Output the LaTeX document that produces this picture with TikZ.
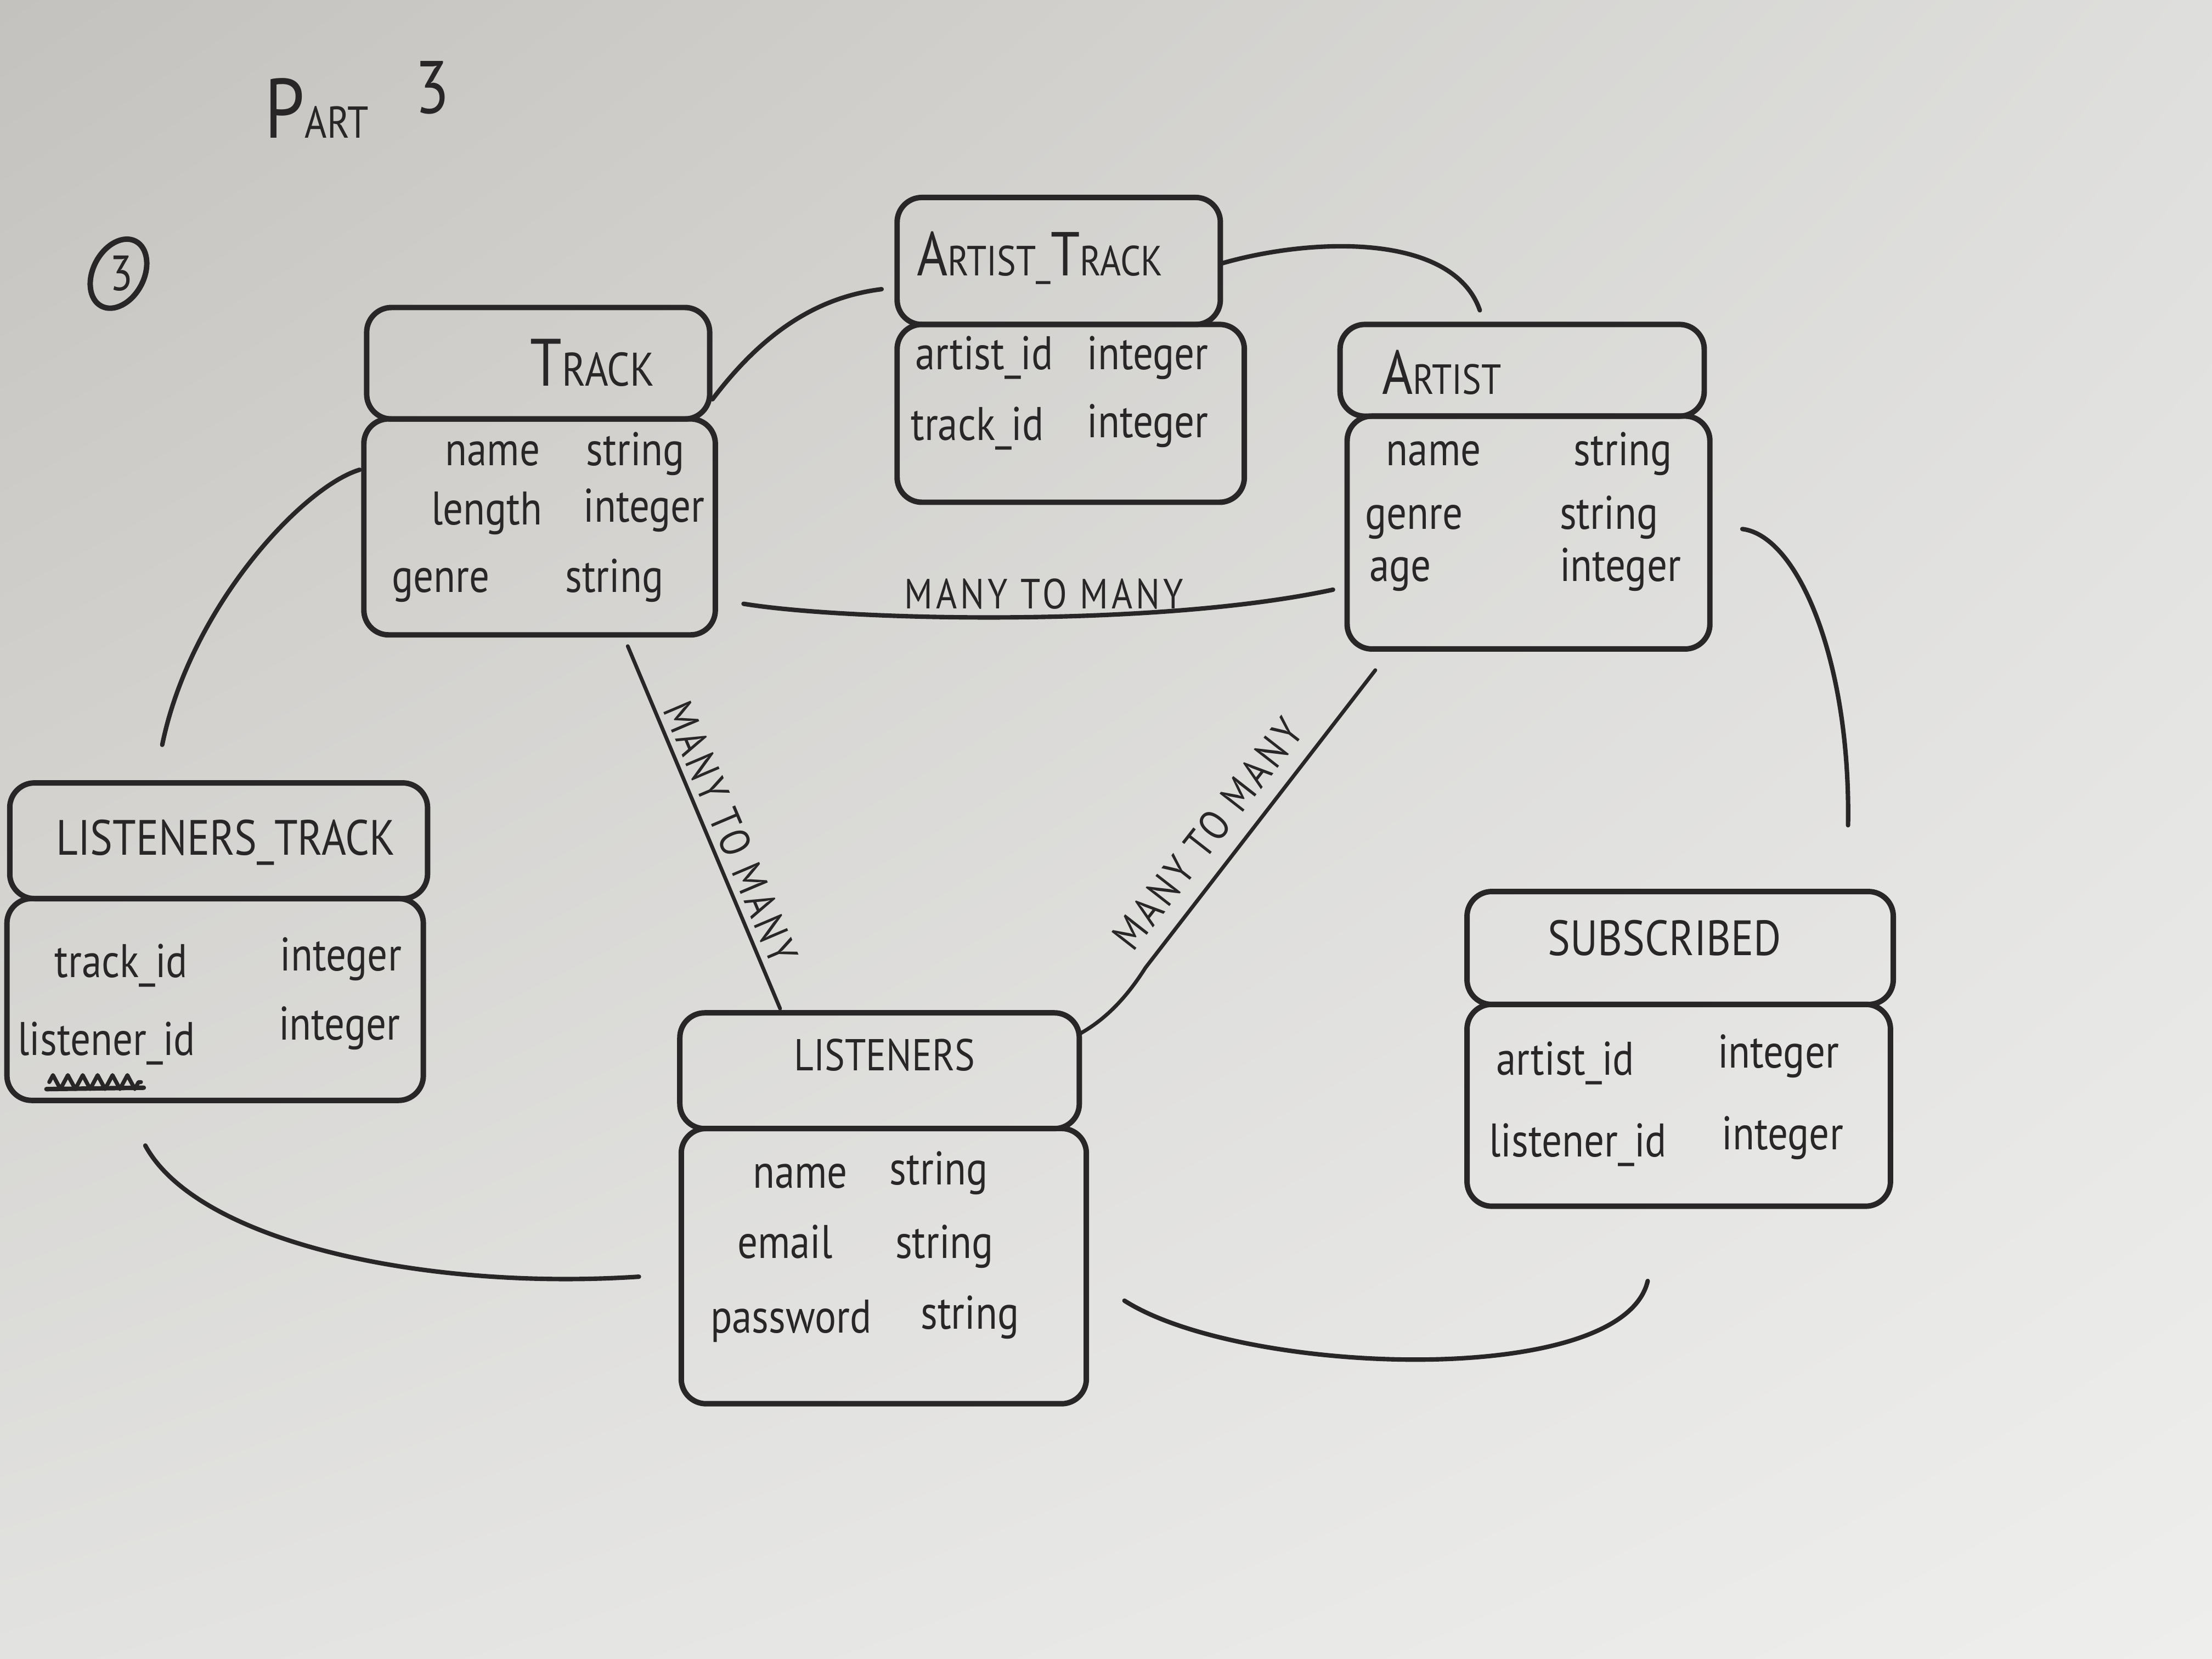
\documentclass[tikz,border=0pt]{standalone}
\usepackage{fontspec}
\setmainfont{PT Sans}[FakeStretch=0.85]
\usetikzlibrary{calc,shapes.geometric,decorations.pathmorphing,shadings}

\definecolor{ink}{RGB}{40,38,38}
\definecolor{paperTL}{RGB}{196,194,190}
\definecolor{paperTR}{RGB}{222,222,220}
\definecolor{paperBL}{RGB}{226,226,224}
\definecolor{paperBR}{RGB}{238,238,237}

% larger first letters for the small-caps style titles
\newcommand\BigInit[1]{{\fontsize{13.5}{13}\selectfont #1}}
\newcommand\MidInit[1]{{\fontsize{12.5}{12}\selectfont #1}}

\tikzset{
  pen/.style={draw=ink, line width=1.1pt, line cap=round, line join=round},
  box/.style={pen, rounded corners=5pt, inner sep=0pt, outer sep=0pt},
  ttl/.style={text=ink, inner sep=0pt, font=\fontsize{9.5}{11}\selectfont},
  fld/.style={text=ink, inner sep=0pt, anchor=base west, font=\fontsize{9.5}{11}\selectfont},
  rel/.style={text=ink, inner sep=0pt, font=\fontsize{8.5}{10}\selectfont\addfontfeature{LetterSpace=8}},
  link/.style={draw=ink, line width=0.9pt, line cap=round, line join=round},
}

\begin{document}
\begin{tikzpicture}[x=0.01cm,y=-0.01cm]
% paper
\useasboundingbox (0,0) rectangle (1568,1176);
\shade[upper left=paperTL, upper right=paperTR, lower left=paperBL, lower right=paperBR]
  (0,0) rectangle (1568,1176);

% heading
\node[text=ink, inner sep=0pt, anchor=base west, font=\fontsize{9}{10}\selectfont] (part) at (187,98)
  {{\fontsize{17}{17}\selectfont P}ART\hspace{0.33cm}\raisebox{5pt}{\fontsize{15}{15}\selectfont 3}};
\node[pen, ellipse, minimum width=0.36cm, minimum height=0.52cm, inner sep=0pt, rotate=-28] (circ) at (84,194) {};
\node[text=ink, inner sep=0pt, font=\fontsize{10}{10}\selectfont] (circnum) at (86,194) {3};

% TRACK
\node[box, minimum width=2.43cm, minimum height=0.79cm] (trackH) at (381.5,257.5) {};
\node[box, minimum width=2.49cm, minimum height=1.53cm] (trackB) at (382.5,373.5) {};
\node[ttl] (trackT) at (420,257) {\BigInit{T}RACK};
\node[fld] (tr1a) at (315,330) {name};
\node[fld] (tr1b) at (415,330) {string};
\node[fld] (tr2a) at (305,372) {length};
\node[fld] (tr2b) at (413,370) {integer};
\node[fld] (tr3a) at (277,420) {genre};
\node[fld] (tr3b) at (400,420) {string};

% ARTIST_TRACK
\node[box, minimum width=2.29cm, minimum height=0.90cm] (atH) at (750.5,185) {};
\node[box, minimum width=2.46cm, minimum height=1.26cm] (atB) at (759,293) {};
\node[ttl, font=\fontsize{8.5}{10}\selectfont] (atT) at (737,183) {\MidInit{A}RTIST\_\MidInit{T}RACK};
\node[fld] (at1a) at (648,262) {artist\_id};
\node[fld] (at1b) at (770,262) {integer};
\node[fld] (at2a) at (645,312) {track\_id};
\node[fld] (at2b) at (770,310) {integer};

% ARTIST
\node[box, minimum width=2.58cm, minimum height=0.65cm] (artH) at (1079,262.5) {};
\node[box, minimum width=2.57cm, minimum height=1.65cm] (artB) at (1083.5,377.5) {};
\node[ttl, font=\fontsize{8.5}{10}\selectfont] (artT) at (1022,264) {\MidInit{A}RTIST};
\node[fld] (ar1a) at (982,330) {name};
\node[fld] (ar1b) at (1115,330) {string};
\node[fld] (ar2a) at (967,375) {genre};
\node[fld] (ar2b) at (1105,375) {string};
\node[fld] (ar3a) at (970,412) {age};
\node[fld] (ar3b) at (1105,412) {integer};

% LISTENERS_TRACK
\node[box, minimum width=2.96cm, minimum height=0.82cm] (ltH) at (155,596) {};
\node[box, minimum width=2.95cm, minimum height=1.43cm] (ltB) at (152.5,708.5) {};
\node[ttl, font=\fontsize{10}{11}\selectfont] (ltT) at (160,597) {LISTENERS\_TRACK};
\node[fld] (lt1a) at (38,693) {track\_id};
\node[fld] (lt1b) at (198,688) {integer};
\node[fld] (lt2a) at (12,748) {listener\_id};
\node[fld] (lt2b) at (197,737) {integer};
% crossed-out word under listener_id
\draw[link, line width=0.8pt, decorate, decoration={zigzag, segment length=3pt, amplitude=1.4pt}]
  ($(ltB.south west)+(30,-13)$) -- ($(ltB.south west)+(95,-13)$);
\draw[link, line width=0.9pt] ($(ltB.south west)+(28,-8)$) -- ($(ltB.south west)+(97,-9)$);

% LISTENERS
\node[box, minimum width=2.83cm, minimum height=0.82cm] (lH) at (623.5,759) {};
\node[box, minimum width=2.87cm, minimum height=1.95cm] (lB) at (626.5,897.5) {};
\node[ttl, font=\fontsize{9}{10}\selectfont] (lT) at (627,748) {LISTENERS};
\node[fld] (l1a) at (533,842) {name};
\node[fld] (l1b) at (630,840) {string};
\node[fld] (l2a) at (522,892) {email};
\node[fld] (l2b) at (634,892) {string};
\node[fld] (l3a) at (503,945) {password};
\node[fld] (l3b) at (652,942) {string};

% SUBSCRIBED
\node[box, minimum width=3.02cm, minimum height=0.80cm] (subH) at (1191,672) {};
\node[box, minimum width=3.00cm, minimum height=1.43cm] (subB) at (1190,783.5) {};
\node[ttl, font=\fontsize{10}{11}\selectfont] (subT) at (1180,665) {SUBSCRIBED};
\node[fld] (s1a) at (1060,762) {artist\_id};
\node[fld] (s1b) at (1217,757) {integer};
\node[fld] (s2a) at (1055,820) {listener\_id};
\node[fld] (s2b) at (1220,815) {integer};

% relations
\draw[link] ($(trackH.south east)+(2,-14)$) .. controls +(40,-53) and +(-40,5) .. ($(atH.west)+(-11,20)$);
\draw[link] ($(atH.east)+(0,2)$) .. controls +(65,-19) and +(-19,-55) .. ($(artH.north)+(-30,-10)$);
\draw[link] ($(trackB.east)+(20,54.5)$) .. controls +(73,12) and +(-125,27) .. ($(artB.west)+(-10,40.5)$);
\draw[link] ($(trackB.west)+(-3,-40.5)$) .. controls +(-40,12) and +(20,-98) .. ($(ltH.north)+(-40,-27)$);
\draw[link, line width=0.75pt] ($(trackB.south)+(62.5,8)$) -- ($(lH.north)+(-70.5,-3)$);
\draw[link, line width=0.75pt] ($(artB.south west)+(20,15)$) -- ++(-163,211)
  .. controls +(-12,19) and +(20,-11) .. ($(lH.north east)+(0,15)$);
\draw[link] ($(artB.east)+(23,-2.5)$) .. controls +(40,5) and +(2,-115) .. ($(subH.north)+(119,-47)$);
\draw[link] ($(ltB.south)+(-49.5,32)$) .. controls +(37,68) and +(-153,10) .. ($(lB.west)+(-30,7.5)$);
\draw[link] ($(lB.east)+(27,24.5)$) .. controls +(83,53) and +(-18,77) .. ($(subB.south)+(-22,53)$);

% relation labels
\node[rel] (mm1) at (740,421) {MANY TO MANY};
\node[rel, rotate=-67] (mm2) at (518,590) {MANY TO MANY};
\node[rel, rotate=52] (mm3) at (856,591) {MANY TO MANY};
\end{tikzpicture}
\end{document}
